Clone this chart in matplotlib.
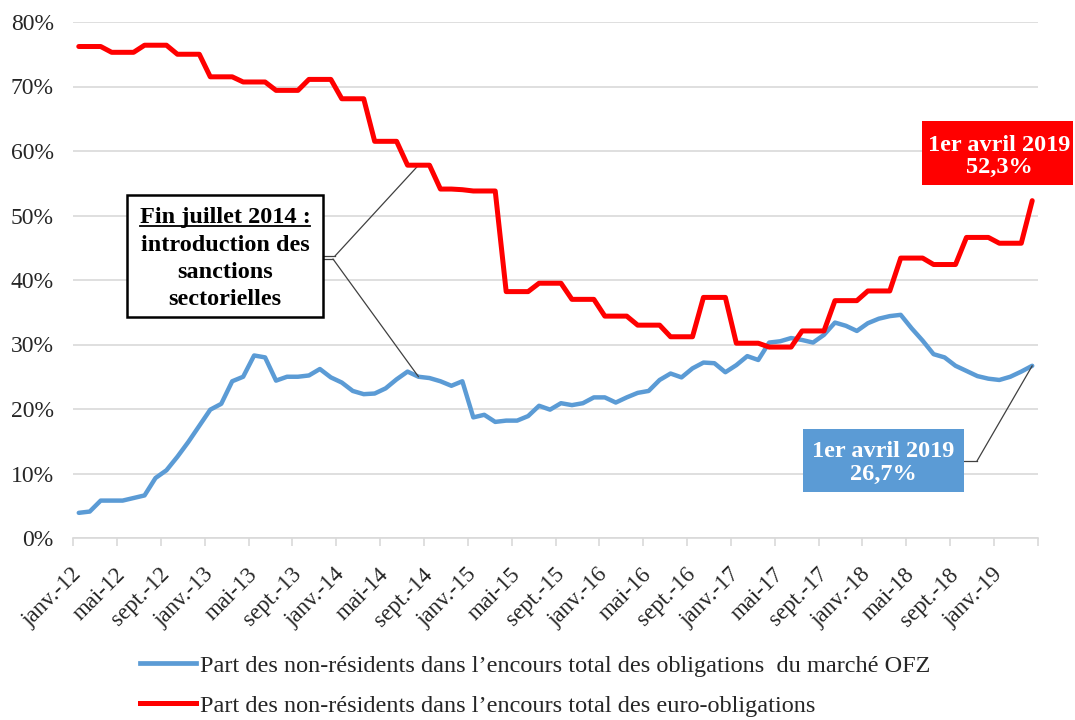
import numpy as np
import matplotlib
matplotlib.use("Agg")
import matplotlib.pyplot as plt
from matplotlib.patches import Rectangle
from matplotlib.lines import Line2D

# monthly data, janv.-12 .. avr.-19 (88 months), in %
month_names = ["janv.", "févr.", "mars", "avr.", "mai", "juin",
               "juil.", "août", "sept.", "oct.", "nov.", "déc."]
months = [month_names[m % 12] + "-" + str(12 + m // 12) for m in range(88)]

ofz = [3.9, 4.1, 5.8, 5.8, 5.8, 6.2, 6.6, 9.3, 10.5, 12.6,
       14.9, 17.4, 19.9, 20.8, 24.3, 25.0, 28.3, 28.0, 24.4, 25.0,
       25.0, 25.2, 26.2, 24.9, 24.1, 22.8, 22.3, 22.4, 23.2, 24.6,
       25.8, 25.0, 24.8, 24.3, 23.6, 24.3, 18.7, 19.1, 18.0, 18.2,
       18.2, 18.9, 20.5, 19.9, 20.9, 20.6, 20.9, 21.8, 21.8, 21.0,
       21.8, 22.5, 22.8, 24.5, 25.5, 24.9, 26.3, 27.2, 27.1, 25.7,
       26.8, 28.2, 27.6, 30.3, 30.5, 31.0, 30.7, 30.3, 31.5, 33.4,
       32.9, 32.1, 33.3, 34.0, 34.4, 34.6, 32.5, 30.6, 28.5, 28.0,
       26.7, 25.9, 25.1, 24.7, 24.5, 25.0, 25.8, 26.7]

euro = [76.2, 76.2, 76.2, 75.3, 75.3, 75.3, 76.4, 76.4, 76.4, 75.0,
        75.0, 75.0, 71.5, 71.5, 71.5, 70.7, 70.7, 70.7, 69.4, 69.4,
        69.4, 71.1, 71.1, 71.1, 68.1, 68.1, 68.1, 61.5, 61.5, 61.5,
        57.8, 57.8, 57.8, 54.1, 54.1, 54.0, 53.8, 53.8, 53.8, 38.2,
        38.2, 38.2, 39.5, 39.5, 39.5, 37.0, 37.0, 37.0, 34.4, 34.4,
        34.4, 33.0, 33.0, 33.0, 31.2, 31.2, 31.2, 37.3, 37.3, 37.3,
        30.2, 30.2, 30.2, 29.6, 29.6, 29.6, 32.1, 32.1, 32.1, 36.8,
        36.8, 36.8, 38.3, 38.3, 38.3, 43.4, 43.4, 43.4, 42.4, 42.4,
        42.4, 46.6, 46.6, 46.6, 45.7, 45.7, 45.7, 52.3]

label_ofz = "Part des non-résidents dans l’encours total des obligations  du marché OFZ"
label_euro = "Part des non-résidents dans l’encours total des euro-obligations"
box_lines = ["Fin juillet 2014 :", "introduction des", "sanctions", "sectorielles"]

BLUE = "#5B9BD5"
RED = "#FF0000"
TXT = "#262626"
W, H = 1075, 720

plt.rcParams['font.family'] = ['Liberation Serif', 'DejaVu Serif']


def fp(x, y):
    # pixel position -> figure fraction
    return (x / W, 1 - y / H)


fig = plt.figure(figsize=(W / 100, H / 100), dpi=100)
ax = fig.add_axes([73.3 / W, 1 - 538 / H, (1037.7 - 73.3) / W, (538 - 22) / H])

x = np.arange(len(months))
ax.plot(x, ofz, color=BLUE, lw=3.2, solid_joinstyle='round', solid_capstyle='round', zorder=3)
ax.plot(x, euro, color=RED, lw=3.6, solid_joinstyle='round', solid_capstyle='round', zorder=4)

ax.set_xlim(-0.5, len(months) - 0.5)
ax.set_ylim(0, 80)
ax.set_yticks(np.arange(0, 81, 10))
ax.set_yticklabels([f"{v}%" for v in range(0, 81, 10)], fontsize=17, color=TXT)
ax.yaxis.grid(True, color="#d9d9d9", lw=1.2)
ax.set_axisbelow(True)
ax.tick_params(axis='y', length=0, pad=14)

ax.set_xticks(x[::4])
ax.set_xticklabels(months[::4], rotation=45, ha='right', va='center',
                   rotation_mode='anchor', fontsize=16.5, color=TXT)
ax.set_xticks(np.arange(-0.5, len(months), 4), minor=True)
ax.tick_params(axis='x', which='major', length=0, pad=24)
ax.tick_params(axis='x', which='minor', length=6, color="#d9d9d9", width=1.2)

for s in ['top', 'right', 'left']:
    ax.spines[s].set_visible(False)
ax.spines['bottom'].set_color("#d9d9d9")
ax.spines['bottom'].set_linewidth(1.2)

# sanctions box
x0, y0, x1, y1 = 127, 195, 323, 317
fig.patches.append(Rectangle(fp(x0, y1), (x1 - x0) / W, (y1 - y0) / H,
                             transform=fig.transFigure, fc='white', ec='black',
                             lw=1.8, zorder=5))
texts = []
for k, line in enumerate(box_lines):
    texts.append(fig.text(*fp(225, 218 + 27.3 * k), line, ha='center', va='center',
                          fontsize=17.5, fontweight='bold', color='black', zorder=6))
fig.canvas.draw()
bb = texts[0].get_window_extent().transformed(fig.transFigure.inverted())
fig.add_artist(Line2D([bb.x0, bb.x1], [bb.y0 + 0.003, bb.y0 + 0.003],
                      transform=fig.transFigure, color='black', lw=1.3, zorder=6))

# connectors from box
fig.add_artist(Line2D([fp(x1, 256)[0], fp(335, 256)[0]], [fp(x1, 256)[1]] * 2,
                      transform=fig.transFigure, color='#404040', lw=0.9))
ax.annotate("", xy=(31, euro[31]), xycoords='data', xytext=fp(335, 256),
            textcoords='figure fraction',
            arrowprops=dict(arrowstyle='-', color='#404040', lw=0.9, shrinkA=0, shrinkB=0))
fig.add_artist(Line2D([fp(x1, 259)[0], fp(333, 259)[0]], [fp(x1, 259)[1]] * 2,
                      transform=fig.transFigure, color='#404040', lw=0.9))
ax.annotate("", xy=(31, ofz[31]), xycoords='data', xytext=fp(333, 259),
            textcoords='figure fraction',
            arrowprops=dict(arrowstyle='-', color='#404040', lw=0.9, shrinkA=0, shrinkB=0))

# red label
fig.patches.append(Rectangle(fp(922, 185), (1073 - 922) / W, (185 - 121) / H,
                             transform=fig.transFigure, fc=RED, ec='none', zorder=5))
fig.text(*fp(999, 156.5), "1er avril 2019\n" + f"{euro[-1]:.1f}%".replace(".", ","),
         ha='center', va='center', fontsize=17.5, fontweight='bold', color='white',
         linespacing=1.1, zorder=6)

# blue label
fig.patches.append(Rectangle(fp(803, 492), (964 - 803) / W, (492 - 429) / H,
                             transform=fig.transFigure, fc=BLUE, ec='none', zorder=5))
fig.text(*fp(883.5, 463), "1er avril 2019\n" + f"{ofz[-1]:.1f}%".replace(".", ","),
         ha='center', va='center', fontsize=17.5, fontweight='bold', color='white',
         linespacing=1.1, zorder=6)
fig.add_artist(Line2D([fp(964, 461)[0], fp(977, 461)[0]], [fp(964, 461)[1]] * 2,
                      transform=fig.transFigure, color='#404040', lw=0.9))
ax.annotate("", xy=(87, ofz[-1]), xycoords='data', xytext=fp(977, 461),
            textcoords='figure fraction',
            arrowprops=dict(arrowstyle='-', color='#404040', lw=0.9, shrinkA=0, shrinkB=0))

handles = [Line2D([], [], color=BLUE, lw=3.4), Line2D([], [], color=RED, lw=3.6)]
leg = fig.legend(handles, [label_ofz, label_euro], loc='upper left',
                 bbox_to_anchor=fp(130.5, 645), frameon=False, fontsize=17.5,
                 handlelength=2.3, handletextpad=0.15, labelspacing=0.75,
                 borderaxespad=0)
for t in leg.get_texts():
    t.set_color(TXT)

fig.savefig("out.png", dpi=100)
